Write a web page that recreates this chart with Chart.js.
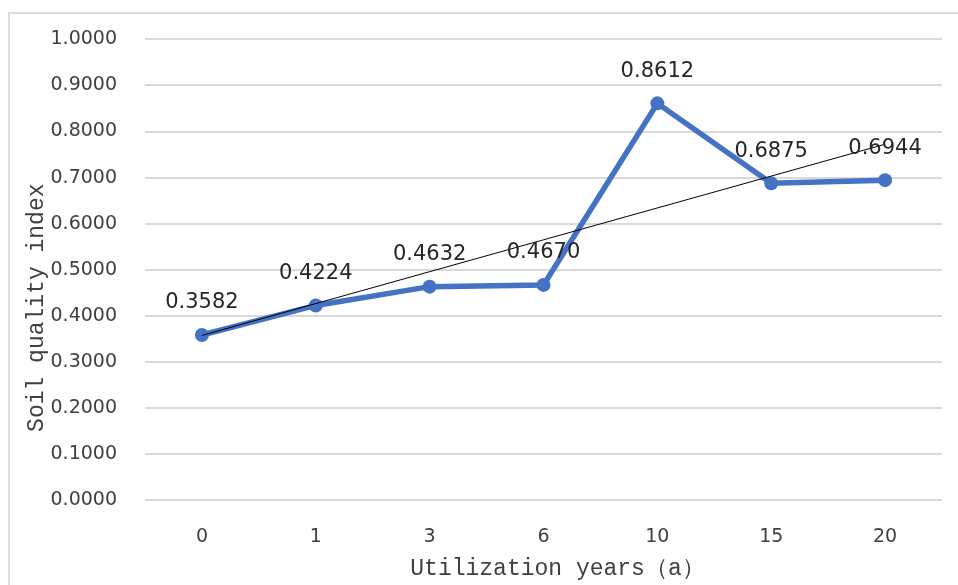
<!DOCTYPE html>
<html>
<head>
<meta charset="utf-8">
<script src="https://cdn.jsdelivr.net/npm/chart.js@4.4.1/dist/chart.umd.min.js"></script>
<style>
  html, body { margin: 0; padding: 0; background: #fff; }
  #wrap { position: relative; width: 958px; height: 585px; overflow: hidden; }
  #frame { position: absolute; left: 8px; top: 12px; width: 1000px; height: 700px; border: 2px solid #dcdcdc; box-sizing: border-box; }
  #chart { position: absolute; left: 0; top: 0; }
</style>
</head>
<body>
<div id="wrap">
  <div id="frame"></div>
  <canvas id="chart" width="958" height="585"></canvas>
</div>
<script>
// 数据
const years = ['0', '1', '3', '6', '10', '15', '20'];
const sqi = [0.3582, 0.4224, 0.4632, 0.4670, 0.8612, 0.6875, 0.6944];
// 线性趋势线（读图得到的两端值）
const trend = [0.3573, null, null, null, null, null, 0.7724];

const xTitle = 'Utilization years（a）';
const yTitle = 'Soil quality index';

// 数据标签
const labelPlugin = {
  id: 'valueLabels',
  afterDatasetsDraw(chart) {
    const ctx = chart.ctx;
    const meta = chart.getDatasetMeta(1);
    ctx.save();
    ctx.font = '21px "DejaVu Sans"';
    ctx.fillStyle = '#262626';
    ctx.textAlign = 'center';
    ctx.textBaseline = 'middle';
    meta.data.forEach((pt, i) => {
      ctx.fillText(sqi[i].toFixed(4), pt.x, pt.y - 32);
    });
    ctx.restore();
  }
};

// 坐标轴标题
const titlePlugin = {
  id: 'axisTitles',
  afterDraw(chart) {
    const ctx = chart.ctx;
    const area = chart.chartArea;
    ctx.save();
    ctx.font = '23px "Liberation Mono"';
    ctx.fillStyle = '#404040';
    ctx.textAlign = 'center';
    ctx.textBaseline = 'middle';
    ctx.fillText(xTitle, (area.left + area.right) / 2 + 14, 569);
    ctx.translate(37, (area.top + area.bottom) / 2 + 38);
    ctx.rotate(-Math.PI / 2);
    ctx.fillText(yTitle, 0, 0);
    ctx.restore();
  }
};

new Chart(document.getElementById('chart'), {
  type: 'line',
  data: {
    labels: years,
    datasets: [
      {
        label: 'trend',
        data: trend,
        spanGaps: true,
        borderColor: '#000',
        borderWidth: 1,
        pointRadius: 0,
        fill: false,
      },
      {
        label: 'SQI',
        data: sqi,
        borderColor: '#4472C4',
        backgroundColor: '#4472C4',
        borderWidth: 5.5,
        pointRadius: 7,
        pointBorderWidth: 0,
        tension: 0,
        fill: false,
      }
    ]
  },
  options: {
    responsive: false,
    animation: false,
    layout: { padding: { top: 37, right: 16, left: 0, bottom: 0 } },
    plugins: {
      legend: { display: false },
      tooltip: { enabled: false }
    },
    scales: {
      x: {
        offset: true,
        grid: { display: false },
        border: { display: false },
        ticks: { color: '#404040', font: { family: 'DejaVu Sans', size: 19 }, padding: 18 },
        afterFit(scale) { scale.height = 85; }
      },
      y: {
        min: 0,
        max: 1,
        grid: { color: '#d9d9d9', lineWidth: 2, drawTicks: false },
        border: { display: false },
        ticks: {
          stepSize: 0.1,
          color: '#404040',
          font: { family: 'DejaVu Sans', size: 19 },
          padding: 28,
          callback: v => v.toFixed(4)
        },
        afterFit(scale) { scale.width = 145; }
      }
    }
  },
  plugins: [labelPlugin, titlePlugin]
});
</script>
</body>
</html>
